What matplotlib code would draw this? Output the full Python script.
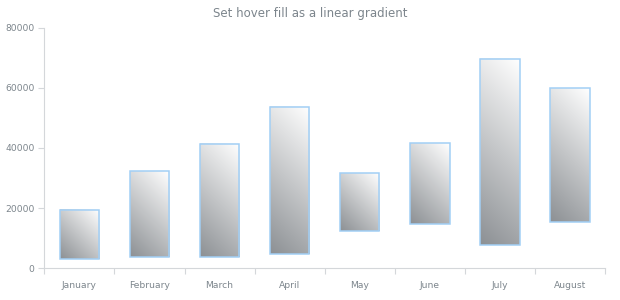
import numpy as np
import matplotlib
matplotlib.use("Agg")
import matplotlib.pyplot as plt

months = ["January", "February", "March", "April", "May", "June", "July", "August"]
low = [3000, 3900, 3700, 4700, 12500, 14800, 7700, 15400]
high = [19300, 32200, 41300, 53600, 31700, 41700, 69700, 59800]
yticks = [0, 20000, 40000, 60000, 80000]

text_col = "#7c858c"
axis_col = "#d4d7da"
edge_col = "#a2cff5"
bar_w = 0.56

fig = plt.figure(figsize=(6.2, 3.0), dpi=100)
ax = fig.add_axes([0.0715, 0.1057, 0.9045, 0.802])
ax.set_xlim(-0.5, len(months) - 0.5)
ax.set_ylim(0, 80000)

# pixel scale so the gradient runs at 45 degrees on screen
px_per_cat = 0.9045 * 620 / len(months)
px_per_val = 0.802 * 300 / 80000

white = np.array([1.0, 1.0, 1.0])
gray = np.array([0.55, 0.565, 0.58])

def gradient(wpx, hpx):
    # white top-right -> gray bottom-left
    xs = np.linspace(0, wpx, 48)
    ys = np.linspace(hpx, 0, 160)
    gx, gy = np.meshgrid(xs, ys)
    t = 1 - (gx + gy) / (wpx + hpx)
    return white[None, None, :] * (1 - t[..., None]) + gray[None, None, :] * t[..., None]

x = np.arange(len(months))
for i in range(len(months)):
    img = gradient(bar_w * px_per_cat, (high[i] - low[i]) * px_per_val)
    ax.imshow(img, extent=(x[i] - bar_w / 2, x[i] + bar_w / 2, low[i], high[i]),
              aspect="auto", interpolation="bilinear", zorder=2)
heights = [h - l for h, l in zip(high, low)]
ax.bar(x, heights, bottom=low, width=bar_w, fill=False, edgecolor=edge_col,
       linewidth=1.1, zorder=3)

ax.set_xlim(-0.5, len(months) - 0.5)
ax.set_ylim(0, 80000)

ax.set_xticks(x)
ax.set_xticklabels(months)
ax.set_xticks(np.arange(-0.5, len(months)), minor=True)
ax.tick_params(axis="x", which="major", length=0, pad=9, labelsize=6.6, labelcolor=text_col)
ax.tick_params(axis="x", which="minor", length=4, color=axis_col, width=0.8)
ax.set_yticks(yticks)
ax.set_yticklabels([str(v) for v in yticks])
ax.tick_params(axis="y", length=4, color=axis_col, width=0.8, pad=3, labelsize=6.6, labelcolor=text_col)

for s in ["top", "right"]:
    ax.spines[s].set_visible(False)
for s in ["left", "bottom"]:
    ax.spines[s].set_color(axis_col)
    ax.spines[s].set_linewidth(0.8)

fig.text(0.5, 0.955, "Set hover fill as a linear gradient", ha="center", va="center",
         fontsize=8.5, color=text_col)

fig.savefig("out.png", dpi=100)
